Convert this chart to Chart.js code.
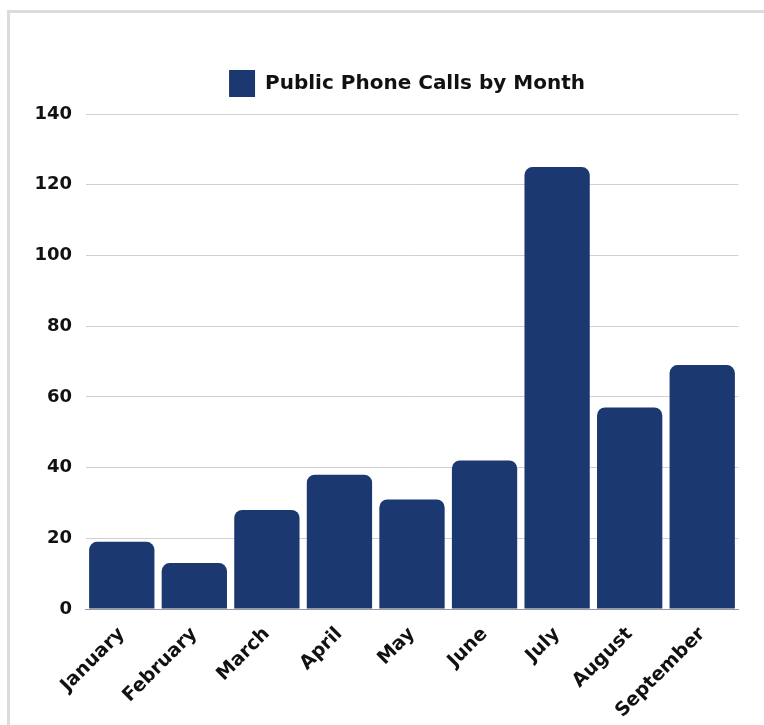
<!DOCTYPE html>
<html lang="en">
<head>
  <meta charset="UTF-8">
  <title>Public Phone Calls by Month</title>
  <script src="https://cdn.jsdelivr.net/npm/chart.js"></script>
  <style>
    html, body { margin: 0; padding: 0; background: #fff; overflow: hidden; }
    .frame {
      position: absolute; left: 7px; top: 10px;
      width: 800px; height: 760px;
      border-top: 3px solid #dcdcdc; border-left: 3px solid #dcdcdc;
    }
    #chart { position: absolute; left: 0; top: 0; }
  </style>
</head>
<body>
  <div class="frame">
    <canvas id="chart" width="740" height="720"></canvas>
  </div>

  <script>
  const months = ['January', 'February', 'March', 'April', 'May', 'June', 'July', 'August', 'September'];
  const calls = [19, 13, 28, 38, 31, 42, 125, 57, 69];
  const yTicks = [0, 20, 40, 60, 80, 100, 120, 140];

  const navy = '#1b3870';

  // legend: a bit more room under it, and roughly centred over the plot area instead of the canvas
  const legendTweak = {
    id: 'legendTweak',
    beforeInit(chart) {
      const fit = chart.legend.fit;
      chart.legend.fit = function () { fit.call(this); this.height += 7; };
    },
    afterLayout(chart) {
      const lg = chart.legend;
      const mid = (chart.chartArea.left + chart.chartArea.right) / 2 - 5;
      const dx = mid - (lg.left + lg.right) / 2;
      lg.left += dx;
      lg.right += dx;
    }
  };

  new Chart(document.getElementById('chart'), {
    type: 'bar',
    data: {
      labels: months,
      datasets: [{
        label: 'Public Phone Calls by Month',
        data: calls,
        backgroundColor: navy,
        borderRadius: { topLeft: 8, topRight: 8 },
        borderSkipped: 'bottom',
        barPercentage: 0.9,
        categoryPercentage: 1.0
      }]
    },
    options: {
      responsive: false,
      animation: false,
      layout: { padding: { top: 37, right: 11.5 } },
      scales: {
        x: {
          grid: { display: false, drawTicks: false },
          border: { color: '#999', width: 1 },
          ticks: {
            color: '#111',
            font: { family: 'DejaVu Sans', weight: 'bold', size: 19 },
            minRotation: 45, maxRotation: 45, padding: 14
          },
          afterFit: (axis) => { axis.height = 124; }
        },
        y: {
          min: 0,
          max: 140,
          afterBuildTicks: (axis) => { axis.ticks = yTicks.map(v => ({ value: v })); },
          grid: { color: '#d0d0d0', drawTicks: false },
          border: { display: false },
          ticks: {
            color: '#111',
            font: { family: 'DejaVu Sans', weight: 'bold', size: 18 },
            padding: 13.5
          },
          afterFit: (axis) => { axis.width = 75.5; }
        }
      },
      plugins: {
        legend: {
          labels: {
            color: '#111',
            font: { family: 'DejaVu Sans', weight: 'bold', size: 20 },
            boxWidth: 26,
            boxHeight: 27,
            padding: 20
          }
        },
        tooltip: { enabled: false }
      }
    },
    plugins: [legendTweak]
  });
  </script>
</body>
</html>
